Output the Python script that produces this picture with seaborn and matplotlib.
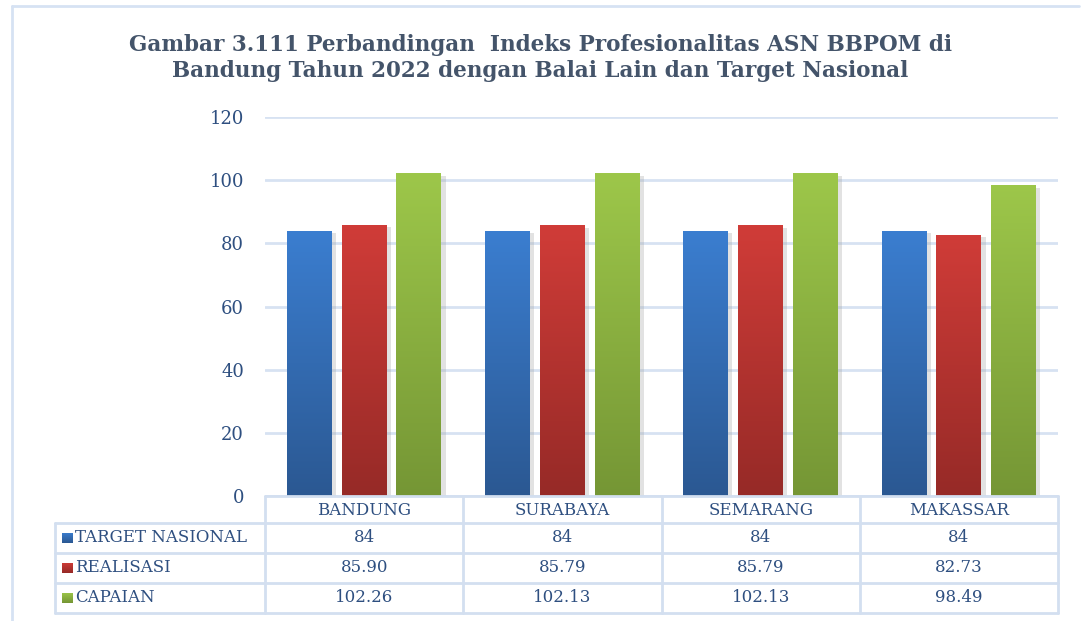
import numpy as np
import pandas as pd
import matplotlib
matplotlib.use("Agg")
import matplotlib.pyplot as plt
import matplotlib.patheffects as pe
from matplotlib.colors import LinearSegmentedColormap
from matplotlib.lines import Line2D
import seaborn as sns

# ---- data ----
balai = ["BANDUNG", "SURABAYA", "SEMARANG", "MAKASSAR"]
series = ["TARGET NASIONAL", "REALISASI", "CAPAIAN"]
target_nasional = [84, 84, 84, 84]
realisasi = [85.90, 85.79, 85.79, 82.73]
capaian = [102.26, 102.13, 102.13, 98.49]
table_labels = [
    ["84", "84", "84", "84"],
    ["85.90", "85.79", "85.79", "82.73"],
    ["102.26", "102.13", "102.13", "98.49"],
]
y_ticks = [0, 20, 40, 60, 80, 100, 120]
title = ("Gambar 3.111 Perbandingan  Indeks Profesionalitas ASN BBPOM di\n"
         "Bandung Tahun 2022 dengan Balai Lain dan Target Nasional")

# top / bottom colours of each series' vertical gradient
grad = {
    "TARGET NASIONAL": ("#3B7ED0", "#2B5892"),
    "REALISASI": ("#D03C38", "#962A27"),
    "CAPAIAN": ("#9DC74A", "#759635"),
}

df = pd.DataFrame({
    "balai": balai * 3,
    "seri": [s for s in series for _ in balai],
    "nilai": target_nasional + realisasi + capaian,
})

sns.set_theme(style="white")
plt.rcParams["font.family"] = ["DejaVu Serif"]

W, H = 1081, 621
fig = plt.figure(figsize=(W / 100, H / 100), dpi=100)
fig.patch.set_facecolor("white")

def fx(px):
    return px / W

def fy(py):
    return 1 - py / H

x0, x1, ytop, ybot = 265, 1058, 117, 496
ax = fig.add_axes([fx(x0), fy(ybot), fx(x1 - x0), (ybot - ytop) / H])

palette = {s: grad[s][0] for s in series}
sns.barplot(data=df, x="balai", y="nilai", hue="seri", order=balai,
            hue_order=series, palette=palette, width=0.83, gap=0.18,
            dodge=True, legend=False, ax=ax, zorder=3, saturation=1)

# gradient fill + soft shadow on every bar
for patch in ax.patches:
    fc = patch.get_facecolor()
    key = None
    for s in series:
        if np.allclose(fc[:3], matplotlib.colors.to_rgb(grad[s][0]), atol=0.01):
            key = s
    if key is None:
        continue
    patch.set_edgecolor("none")
    patch.set_path_effects([pe.SimplePatchShadow(offset=(3, -2), shadow_rgbFace="#a0a0a0", alpha=0.3),
                            pe.Normal()])
    cmap = LinearSegmentedColormap.from_list(key, [grad[key][1], grad[key][0]])
    bx, by = patch.get_x(), patch.get_y()
    bw, bh = patch.get_width(), patch.get_height()
    g = np.linspace(0, 1, 256).reshape(-1, 1)
    im = ax.imshow(g, cmap=cmap, origin="lower", aspect="auto",
                   extent=[bx, bx + bw, by, by + bh], zorder=4)
    im.set_clip_path(patch)
ax.set_xlim(-0.5, len(balai) - 0.5)
ax.set_ylim(0, 120)

grid_c = "#D7E2F2"
txt_c = "#2E4F80"
ax.set_yticks(y_ticks)
ax.yaxis.grid(True, color=grid_c, linewidth=2, zorder=0)
ax.xaxis.grid(False)
ax.tick_params(axis="y", length=0, pad=15, labelsize=13, labelcolor=txt_c)
ax.set_xticks([])
ax.set_xlabel("")
ax.set_ylabel("")
for sp in ax.spines.values():
    sp.set_visible(False)

# title
fig.text(0.5, fy(58), title, ha="center", va="center", fontsize=15.5,
         fontweight="bold", color="#44546A", linespacing=1.25,
         family=["DejaVu Serif"])

# frame lines
fig.add_artist(Line2D([fx(12), fx(12)], [0, fy(6)], color="#D6E2F3", lw=2))
fig.add_artist(Line2D([fx(12), fx(1079)], [fy(6), fy(6)], color="#D6E2F3", lw=2))

# ---- data table below the plot ----
tbl_c = "#D3DFF0"
col_edges = [x0 + (x1 - x0) * i / len(balai) for i in range(len(balai) + 1)]
row_edges = [496, 523, 553, 583, 613]
lx = 55

def hline(xa, xb, y):
    fig.add_artist(Line2D([fx(xa), fx(xb)], [fy(y), fy(y)], color=tbl_c, lw=2))

def vline(x, ya, yb):
    fig.add_artist(Line2D([fx(x), fx(x)], [fy(ya), fy(yb)], color=tbl_c, lw=2))

hline(x0, x1, row_edges[0])
for y in row_edges[1:]:
    hline(lx, x1, y)
for x in col_edges:
    vline(x, row_edges[0], row_edges[-1])
vline(lx, row_edges[1], row_edges[-1])

for i, name in enumerate(balai):
    cx = (col_edges[i] + col_edges[i + 1]) / 2
    fig.text(fx(cx), fy((row_edges[0] + row_edges[1]) / 2 + 1), name,
             ha="center", va="center", fontsize=12, color=txt_c)

for r, s in enumerate(series):
    yc = (row_edges[r + 1] + row_edges[r + 2]) / 2
    top, bot = grad[s]
    # legend key with the same gradient
    kax = fig.add_axes([fx(62), fy(yc + 5.5), fx(11), 11 / H])
    kax.imshow(np.linspace(0, 1, 64).reshape(-1, 1),
               cmap=LinearSegmentedColormap.from_list(s + "k", [top, bot]),
               aspect="auto")
    kax.axis("off")
    fig.text(fx(75), fy(yc), s, ha="left", va="center", fontsize=12, color=txt_c)
    for i in range(len(balai)):
        cx = (col_edges[i] + col_edges[i + 1]) / 2
        fig.text(fx(cx), fy(yc), table_labels[r][i], ha="center", va="center",
                 fontsize=12, color=txt_c)

fig.savefig("out.png", dpi=100, facecolor="white")
